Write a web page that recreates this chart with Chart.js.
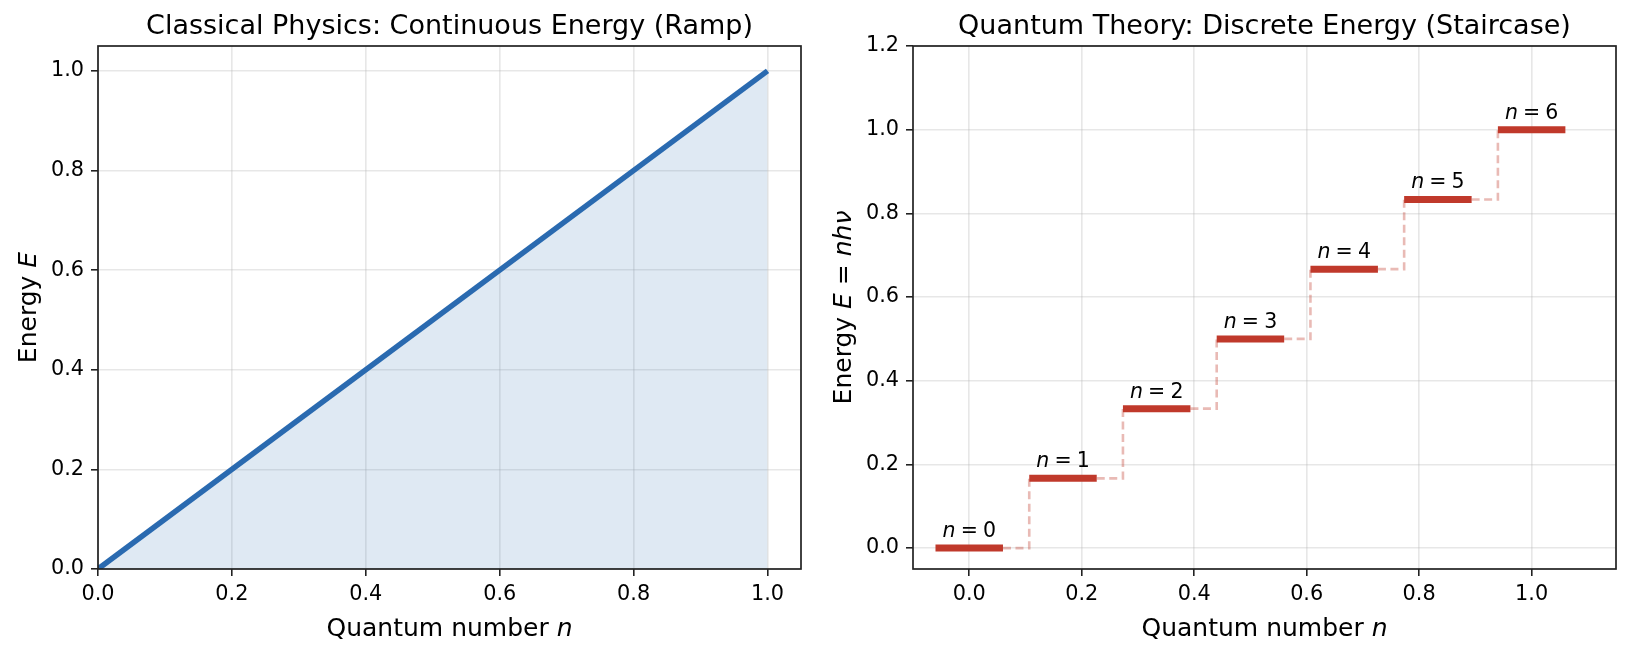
<!DOCTYPE html>
<html><head><meta charset="utf-8">
<script src="https://cdn.jsdelivr.net/npm/chart.js@4/dist/chart.umd.min.js"></script>
<style>
html,body{margin:0;padding:0;background:#fff;overflow:hidden}
#wrap{position:relative;width:1630px;height:653px;background:#fff}
canvas{position:absolute;top:0}
</style></head><body>
<div id="wrap">
<canvas id="c1" width="815" height="653" style="left:0"></canvas>
<canvas id="c2" width="815" height="653" style="left:815px"></canvas>
</div>
<script>
// ---------- data ----------
const rampN = [0, 1];
const rampE = [0, 1];
const levelN = [0, 1, 2, 3, 4, 5, 6];
const levelX = [0, 0.1667, 0.3333, 0.5, 0.6667, 0.8333, 1.0];
const levelE = [0, 0.1667, 0.3333, 0.5, 0.6667, 0.8333, 1.0];
const leftXTicks = [0, 0.2, 0.4, 0.6, 0.8, 1.0];
const leftYTicks = [0, 0.2, 0.4, 0.6, 0.8, 1.0];
const rightXTicks = [0, 0.2, 0.4, 0.6, 0.8, 1.0];
const rightYTicks = [0, 0.2, 0.4, 0.6, 0.8, 1.0, 1.2];
const leftTitle = 'Classical Physics: Continuous Energy (Ramp)';
const rightTitle = 'Quantum Theory: Discrete Energy (Staircase)';
const xLabelParts = [['Quantum number ', false], ['n', true]];
const leftYLabelParts = [['Energy ', false], ['E', true]];
const rightYLabelParts = [['Energy ', false], ['E', true], [' = ', false], ['nh\u03BD', true]];

// ---------- style ----------
const BAR_HALF = 0.06;
const FONT = '"DejaVu Sans", sans-serif';
const RAMP_COLOR = '#2a6ab0';
const RAMP_FILL = 'rgba(42,106,176,0.15)';
const BAR_COLOR = '#c0392b';
const DASH_COLOR = 'rgba(192,57,43,0.35)';

function drawRich(ctx, parts, size, x, y, rot) {
  ctx.save();
  ctx.translate(x, y);
  if (rot) ctx.rotate(rot);
  ctx.textBaseline = 'alphabetic';
  ctx.textAlign = 'left';
  ctx.fillStyle = '#000';
  let total = 0;
  const widths = parts.map(p => {
    ctx.font = (p[1] ? 'italic ' : '') + size + 'px ' + FONT;
    const w = ctx.measureText(p[0]).width; total += w; return w;
  });
  let cx = -total / 2;
  parts.forEach((p, i) => {
    ctx.font = (p[1] ? 'italic ' : '') + size + 'px ' + FONT;
    ctx.fillText(p[0], cx, 0);
    cx += widths[i];
  });
  ctx.restore();
}

function axis(min, max, ticks, isY) {
  return {
    type: 'linear', min: min, max: max,
    afterBuildTicks: s => { s.ticks = ticks.map(v => ({ value: v })); },
    afterFit: s => { if (isY) s.width = 98; else s.height = 84; },
    grid: { color: 'rgba(176,176,176,0.3)', lineWidth: 1.6, tickLength: 7,
            tickColor: '#222', tickWidth: 1.6, drawTicks: true },
    border: { display: false },
    ticks: { font: { family: FONT, size: 20.8 }, color: '#000', padding: isY ? 7 : 6,
             callback: v => Number(v).toFixed(1), maxRotation: 0, autoSkip: false }
  };
}

function decorPlugin(title, yParts, withLevels) {
  return {
    id: 'decor',
    afterDatasetsDraw(chart) {
      const ctx = chart.ctx;
      if (withLevels) {
        const xs = chart.scales.x, ys = chart.scales.y;
        levelN.forEach((n, i) => {
          const px = xs.getPixelForValue(levelX[i]);
          const py = ys.getPixelForValue(levelE[i]);
          drawRich(ctx, [['n', true], ['\u2005=\u2005' + n, false]], 20.5, px, py - 11, 0);
        });
      }
    },
    afterDraw(chart) {
      const ctx = chart.ctx, a = chart.chartArea;
      ctx.save();
      ctx.strokeStyle = '#222';
      ctx.lineWidth = 1.7;
      ctx.strokeRect(a.left, a.top, a.right - a.left, a.bottom - a.top);
      ctx.restore();
      const cx = (a.left + a.right) / 2, cy = (a.top + a.bottom) / 2;
      drawRich(ctx, [[title, false]], 27, cx, 33.5, 0);
      drawRich(ctx, xLabelParts, 25, cx, 636, 0);
      drawRich(ctx, yParts, 25, 36, cy, -Math.PI / 2);
    }
  };
}

const common = {
  responsive: false, animation: false, devicePixelRatio: 1,
  layout: { padding: { top: 46, right: 14, left: 0, bottom: 0 } },
  plugins: { legend: { display: false }, tooltip: { enabled: false }, title: { display: false } },
  elements: { point: { radius: 0 }, line: { tension: 0 } }
};

// ---------- left chart ----------
new Chart(document.getElementById('c1'), {
  type: 'line',
  data: { datasets: [{
    data: rampN.map((n, i) => ({ x: n, y: rampE[i] })),
    borderColor: RAMP_COLOR, borderWidth: 5.5, backgroundColor: RAMP_FILL,
    fill: 'origin', pointRadius: 0
  }] },
  options: Object.assign({}, common, {
    scales: { x: axis(0, 1.05, leftXTicks, false), y: axis(0, 1.05, leftYTicks, true) }
  }),
  plugins: [decorPlugin(leftTitle, leftYLabelParts, false)]
});

// ---------- right chart ----------
const rightSets = [];
levelX.forEach((x, i) => {
  rightSets.push({
    data: [{ x: x - BAR_HALF, y: levelE[i] }, { x: x + BAR_HALF, y: levelE[i] }],
    borderColor: BAR_COLOR, borderWidth: 7, borderCapStyle: 'butt', fill: false, order: 0
  });
  if (i < levelX.length - 1) {
    const nx = levelX[i + 1] - BAR_HALF;
    rightSets.push({
      data: [{ x: x + BAR_HALF, y: levelE[i] }, { x: nx, y: levelE[i] }, { x: nx, y: levelE[i + 1] }],
      borderColor: DASH_COLOR, borderWidth: 2.6, borderDash: [8, 4.5], fill: false, order: 1
    });
  }
});
new Chart(document.getElementById('c2'), {
  type: 'line',
  data: { datasets: rightSets },
  options: Object.assign({}, common, {
    scales: { x: axis(-0.1, 1.15, rightXTicks, false), y: axis(-0.05, 1.2, rightYTicks, true) }
  }),
  plugins: [decorPlugin(rightTitle, rightYLabelParts, true)]
});
</script>
</body></html>
